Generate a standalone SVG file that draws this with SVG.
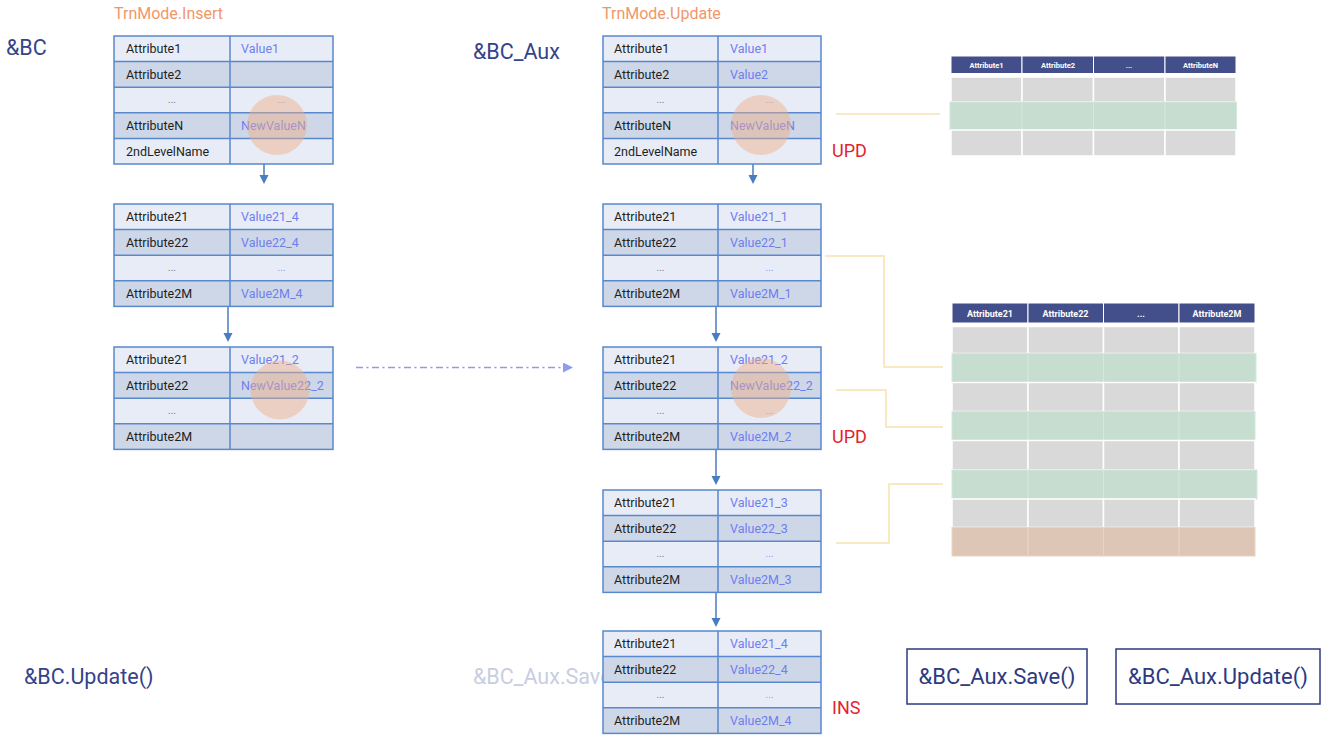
<svg xmlns="http://www.w3.org/2000/svg" width="1328" height="735" viewBox="0 0 1328 735">
<style>
.l{fill:#E8ECF6}
.d{fill:#CDD7E8}
.b{fill:none;stroke:#5A88CC;stroke-width:1.5}
.at{font-family:Roboto,"Liberation Sans",sans-serif;font-size:12.5px;fill:#1E1E1E}
.va{font-family:Roboto,"Liberation Sans",sans-serif;font-size:12.5px;fill:#6F7EF0}
.dt{font-family:Roboto,"Liberation Sans",sans-serif;font-size:10px;fill:#777;text-anchor:middle}
.dv{font-family:Roboto,"Liberation Sans",sans-serif;font-size:10px;fill:#8C98F0;text-anchor:middle}
.big{font-family:Roboto,"Liberation Sans",sans-serif;font-size:21.5px;fill:#34438A}
.mode{font-family:Roboto,"Liberation Sans",sans-serif;font-size:16px;fill:#F0976A}
.red{font-family:Roboto,"Liberation Sans",sans-serif;font-size:18px;fill:#E0252D}
.circ{fill:#F2AE85;opacity:0.45}
.arr{stroke:#4A7CC0;stroke-width:1.5;fill:none}
.ah{fill:#4A7CC0}
.or{stroke:#F8E2B0;stroke-width:1.5;fill:none}
.hd{fill:#434F8A;stroke:#fff;stroke-width:1}
.ht{font-family:Roboto,"Liberation Sans",sans-serif;font-size:7.5px;fill:#fff;text-anchor:middle;font-weight:bold}
.ht2{font-family:Roboto,"Liberation Sans",sans-serif;font-size:9px;fill:#fff;text-anchor:middle;font-weight:bold}
.g{fill:#D9D9D9;stroke:#fff;stroke-width:1.5}
.gr{fill:#C6DDD0;stroke:#D4E8DC;stroke-width:1}
.og{fill:#DEC6B6;stroke:#EBD3C2;stroke-width:1}
.box{fill:#fff;stroke:#2E3A80;stroke-width:1.5}
.bt{font-family:Roboto,"Liberation Sans",sans-serif;font-size:22px;fill:#2E3A80;text-anchor:middle}
</style>
<defs>
<marker id="tri" markerWidth="10" markerHeight="10" refX="9" refY="5" orient="auto" markerUnits="userSpaceOnUse">
<path d="M0,0 L10,5 L0,10 Z" fill="#8F9BF0"/>
</marker>
</defs>

<!-- free labels -->
<g id="labels">
<text x="6" y="55" class="big">&amp;BC</text>
<text x="473" y="59" class="big">&amp;BC_Aux</text>
<text x="114" y="19" class="mode">TrnMode.Insert</text>
<text x="602" y="19" class="mode">TrnMode.Update</text>
<text x="24" y="684" class="big">&amp;BC.Update()</text>
<text x="473" y="684" class="big" style="fill:#C9CDE2">&amp;BC_Aux.Save()</text>
<text x="832" y="157" class="red">UPD</text>
<text x="832" y="443" class="red">UPD</text>
<text x="832" y="714" class="red">INS</text>
</g>

<!-- connectors -->
<g id="connectors">
<path class="arr" d="M264 152V176"/><path class="ah" d="M259.5 175L268.5 175L264 184Z"/>
<path class="arr" d="M228 307V334"/><path class="ah" d="M223.5 333L232.5 333L228 342Z"/>
<path class="arr" d="M753 152V176"/><path class="ah" d="M748.5 175L757.5 175L753 184Z"/>
<path class="arr" d="M716 307V334"/><path class="ah" d="M711.5 333L720.5 333L716 342Z"/>
<path class="arr" d="M716 450V477"/><path class="ah" d="M711.5 476L720.5 476L716 485Z"/>
<path class="arr" d="M716 593V618"/><path class="ah" d="M711.5 618L720.5 618L716 627Z"/>
<path d="M356 367.5H572" stroke="#8F9BF0" stroke-width="1.5" stroke-dasharray="7 3.5 2 3.5" fill="none" marker-end="url(#tri)"/>
<path class="or" d="M836 114H940"/>
<path class="or" d="M825 256H884V367H943"/>
<path class="or" d="M836 390H886V427H943"/>
<path class="or" d="M836 543H889V484H943"/>
</g>

<!-- left tables -->
<g id="bc-level1">
<rect x="114" y="36" width="219" height="25.6" class="l"/>
<rect x="114" y="61.6" width="219" height="25.6" class="d"/>
<rect x="114" y="87.2" width="219" height="25.6" class="l"/>
<rect x="114" y="112.8" width="219" height="25.6" class="d"/>
<rect x="114" y="138.4" width="219" height="25.6" class="l"/>
<path class="b" d="M230 36V164M114 61.6H333M114 87.2H333M114 112.8H333M114 138.4H333"/>
<rect x="114" y="36" width="219" height="128" class="b"/>
<text x="126" y="53.3" class="at">Attribute1</text>
<text x="126" y="78.9" class="at">Attribute2</text>
<text x="172" y="103" class="dt">...</text>
<text x="126" y="130.1" class="at">AttributeN</text>
<text x="126" y="155.7" class="at">2ndLevelName</text>
<text x="241" y="53.3" class="va">Value1</text>
<text x="281.5" y="103" class="dv">...</text>
<text x="241" y="130.1" class="va">NewValueN</text>
<circle cx="277" cy="125" r="30" class="circ"/>
</g>

<g id="bc-level2-a">
<rect x="114" y="204" width="219" height="25.6" class="l"/>
<rect x="114" y="229.6" width="219" height="25.6" class="d"/>
<rect x="114" y="255.2" width="219" height="25.6" class="l"/>
<rect x="114" y="280.8" width="219" height="25.6" class="d"/>
<path class="b" d="M230 204V306.4M114 229.6H333M114 255.2H333M114 280.8H333"/>
<rect x="114" y="204" width="219" height="102.4" class="b"/>
<text x="126" y="221.3" class="at">Attribute21</text>
<text x="126" y="246.9" class="at">Attribute22</text>
<text x="172" y="271" class="dt">...</text>
<text x="126" y="298.1" class="at">Attribute2M</text>
<text x="241" y="221.3" class="va">Value21_4</text>
<text x="241" y="246.9" class="va">Value22_4</text>
<text x="281.5" y="271" class="dv">...</text>
<text x="241" y="298.1" class="va">Value2M_4</text>
</g>

<g id="bc-level2-b">
<rect x="114" y="347" width="219" height="25.6" class="l"/>
<rect x="114" y="372.6" width="219" height="25.6" class="d"/>
<rect x="114" y="398.2" width="219" height="25.6" class="l"/>
<rect x="114" y="423.8" width="219" height="25.6" class="d"/>
<path class="b" d="M230 347V449.4M114 372.6H333M114 398.2H333M114 423.8H333"/>
<rect x="114" y="347" width="219" height="102.4" class="b"/>
<text x="126" y="364.3" class="at">Attribute21</text>
<text x="126" y="389.9" class="at">Attribute22</text>
<text x="172" y="414" class="dt">...</text>
<text x="126" y="441.1" class="at">Attribute2M</text>
<text x="241" y="364.3" class="va">Value21_2</text>
<text x="241" y="389.9" class="va">NewValue22_2</text>
<circle cx="280" cy="390" r="29.5" class="circ"/>
</g>

<!-- middle tables -->
<g id="aux-level1">
<rect x="603" y="36" width="218" height="25.6" class="l"/>
<rect x="603" y="61.6" width="218" height="25.6" class="d"/>
<rect x="603" y="87.2" width="218" height="25.6" class="l"/>
<rect x="603" y="112.8" width="218" height="25.6" class="d"/>
<rect x="603" y="138.4" width="218" height="25.6" class="l"/>
<path class="b" d="M718 36V164M603 61.6H821M603 87.2H821M603 112.8H821M603 138.4H821"/>
<rect x="603" y="36" width="218" height="128" class="b"/>
<text x="614" y="53.3" class="at">Attribute1</text>
<text x="614" y="78.9" class="at">Attribute2</text>
<text x="660.5" y="103" class="dt">...</text>
<text x="614" y="130.1" class="at">AttributeN</text>
<text x="614" y="155.7" class="at">2ndLevelName</text>
<text x="730" y="53.3" class="va">Value1</text>
<text x="730" y="78.9" class="va">Value2</text>
<text x="769.5" y="103" class="dv">...</text>
<text x="730" y="130.1" class="va">NewValueN</text>
<circle cx="761" cy="125" r="30" class="circ"/>
</g>

<g id="aux-level2-1">
<rect x="603" y="204" width="218" height="25.6" class="l"/>
<rect x="603" y="229.6" width="218" height="25.6" class="d"/>
<rect x="603" y="255.2" width="218" height="25.6" class="l"/>
<rect x="603" y="280.8" width="218" height="25.6" class="d"/>
<path class="b" d="M718 204V306.4M603 229.6H821M603 255.2H821M603 280.8H821"/>
<rect x="603" y="204" width="218" height="102.4" class="b"/>
<text x="614" y="221.3" class="at">Attribute21</text>
<text x="614" y="246.9" class="at">Attribute22</text>
<text x="660.5" y="271" class="dt">...</text>
<text x="614" y="298.1" class="at">Attribute2M</text>
<text x="730" y="221.3" class="va">Value21_1</text>
<text x="730" y="246.9" class="va">Value22_1</text>
<text x="769.5" y="271" class="dv">...</text>
<text x="730" y="298.1" class="va">Value2M_1</text>
</g>

<g id="aux-level2-2">
<rect x="603" y="347" width="218" height="25.6" class="l"/>
<rect x="603" y="372.6" width="218" height="25.6" class="d"/>
<rect x="603" y="398.2" width="218" height="25.6" class="l"/>
<rect x="603" y="423.8" width="218" height="25.6" class="d"/>
<path class="b" d="M718 347V449.4M603 372.6H821M603 398.2H821M603 423.8H821"/>
<rect x="603" y="347" width="218" height="102.4" class="b"/>
<text x="614" y="364.3" class="at">Attribute21</text>
<text x="614" y="389.9" class="at">Attribute22</text>
<text x="660.5" y="414" class="dt">...</text>
<text x="614" y="441.1" class="at">Attribute2M</text>
<text x="730" y="364.3" class="va">Value21_2</text>
<text x="730" y="389.9" class="va">NewValue22_2</text>
<text x="769.5" y="414" class="dv">...</text>
<text x="730" y="441.1" class="va">Value2M_2</text>
<circle cx="761" cy="388" r="30" class="circ"/>
</g>

<g id="aux-level2-3">
<rect x="603" y="490" width="218" height="25.6" class="l"/>
<rect x="603" y="515.6" width="218" height="25.6" class="d"/>
<rect x="603" y="541.2" width="218" height="25.6" class="l"/>
<rect x="603" y="566.8" width="218" height="25.6" class="d"/>
<path class="b" d="M718 490V592.4M603 515.6H821M603 541.2H821M603 566.8H821"/>
<rect x="603" y="490" width="218" height="102.4" class="b"/>
<text x="614" y="507.3" class="at">Attribute21</text>
<text x="614" y="532.9" class="at">Attribute22</text>
<text x="660.5" y="557" class="dt">...</text>
<text x="614" y="584.1" class="at">Attribute2M</text>
<text x="730" y="507.3" class="va">Value21_3</text>
<text x="730" y="532.9" class="va">Value22_3</text>
<text x="769.5" y="557" class="dv">...</text>
<text x="730" y="584.1" class="va">Value2M_3</text>
</g>

<g id="aux-level2-4">
<rect x="603" y="631" width="218" height="25.6" class="l"/>
<rect x="603" y="656.6" width="218" height="25.6" class="d"/>
<rect x="603" y="682.2" width="218" height="25.6" class="l"/>
<rect x="603" y="707.8" width="218" height="25.6" class="d"/>
<path class="b" d="M718 631V733.4M603 656.6H821M603 682.2H821M603 707.8H821"/>
<rect x="603" y="631" width="218" height="102.4" class="b"/>
<text x="614" y="648.3" class="at">Attribute21</text>
<text x="614" y="673.9" class="at">Attribute22</text>
<text x="660.5" y="698" class="dt">...</text>
<text x="614" y="725.1" class="at">Attribute2M</text>
<text x="730" y="648.3" class="va">Value21_4</text>
<text x="730" y="673.9" class="va">Value22_4</text>
<text x="769.5" y="698" class="dv">...</text>
<text x="730" y="725.1" class="va">Value2M_4</text>
</g>

<!-- top grid -->
<g id="grid-level1">
<rect x="951" y="56" width="71" height="17.5" class="hd"/>
<rect x="1022" y="56" width="71.5" height="17.5" class="hd"/>
<rect x="1093.5" y="56" width="71.5" height="17.5" class="hd"/>
<rect x="1165" y="56" width="71" height="17.5" class="hd"/>
<text x="986.5" y="67.5" class="ht">Attribute1</text>
<text x="1058" y="67.5" class="ht">Attribute2</text>
<text x="1129" y="67.5" class="ht">...</text>
<text x="1200.5" y="67.5" class="ht">AttributeN</text>
<rect x="951" y="77" width="71" height="25" class="g"/>
<rect x="1022" y="77" width="71.5" height="25" class="g"/>
<rect x="1093.5" y="77" width="71.5" height="25" class="g"/>
<rect x="1165" y="77" width="71" height="25" class="g"/>
<rect x="950" y="102" width="72" height="28" class="gr"/>
<rect x="1022" y="102" width="71.5" height="28" class="gr"/>
<rect x="1093.5" y="102" width="71.5" height="28" class="gr"/>
<rect x="1165" y="102" width="71.5" height="28" class="gr"/>
<rect x="951" y="130" width="71" height="26" class="g"/>
<rect x="1022" y="130" width="71.5" height="26" class="g"/>
<rect x="1093.5" y="130" width="71.5" height="26" class="g"/>
<rect x="1165" y="130" width="71" height="26" class="g"/>
</g>

<!-- bottom grid -->
<g id="grid-level2">
<rect x="952" y="303" width="76" height="20" class="hd"/>
<rect x="1028" y="303" width="75.5" height="20" class="hd"/>
<rect x="1103.5" y="303" width="75.5" height="20" class="hd"/>
<rect x="1179" y="303" width="76" height="20" class="hd"/>
<text x="990" y="316.5" class="ht2">Attribute21</text>
<text x="1065.5" y="316.5" class="ht2">Attribute22</text>
<text x="1141" y="316.5" class="ht2">...</text>
<text x="1217" y="316.5" class="ht2">Attribute2M</text>
<rect x="952" y="326.5" width="76" height="27" class="g"/>
<rect x="1028" y="326.5" width="75.5" height="27" class="g"/>
<rect x="1103.5" y="326.5" width="75.5" height="27" class="g"/>
<rect x="1179" y="326.5" width="76" height="27" class="g"/>
<rect x="952" y="353.5" width="76" height="29" class="gr"/>
<rect x="1028" y="353.5" width="75.5" height="29" class="gr"/>
<rect x="1103.5" y="353.5" width="75.5" height="29" class="gr"/>
<rect x="1179" y="353.5" width="77" height="29" class="gr"/>
<rect x="952" y="382.5" width="76" height="29" class="g"/>
<rect x="1028" y="382.5" width="75.5" height="29" class="g"/>
<rect x="1103.5" y="382.5" width="75.5" height="29" class="g"/>
<rect x="1179" y="382.5" width="76" height="29" class="g"/>
<rect x="952" y="411.5" width="76" height="29" class="gr"/>
<rect x="1028" y="411.5" width="75.5" height="29" class="gr"/>
<rect x="1103.5" y="411.5" width="75.5" height="29" class="gr"/>
<rect x="1179" y="411.5" width="76" height="29" class="gr"/>
<rect x="952" y="440.5" width="76" height="29.5" class="g"/>
<rect x="1028" y="440.5" width="75.5" height="29.5" class="g"/>
<rect x="1103.5" y="440.5" width="75.5" height="29.5" class="g"/>
<rect x="1179" y="440.5" width="76" height="29.5" class="g"/>
<rect x="952" y="470" width="76" height="29" class="gr"/>
<rect x="1028" y="470" width="75.5" height="29" class="gr"/>
<rect x="1103.5" y="470" width="75.5" height="29" class="gr"/>
<rect x="1179" y="470" width="78" height="29" class="gr"/>
<rect x="952" y="499" width="76" height="28.5" class="g"/>
<rect x="1028" y="499" width="75.5" height="28.5" class="g"/>
<rect x="1103.5" y="499" width="75.5" height="28.5" class="g"/>
<rect x="1179" y="499" width="76" height="28.5" class="g"/>
<rect x="952" y="527.5" width="76" height="28.5" class="og"/>
<rect x="1028" y="527.5" width="75.5" height="28.5" class="og"/>
<rect x="1103.5" y="527.5" width="75.5" height="28.5" class="og"/>
<rect x="1179" y="527.5" width="76" height="28.5" class="og"/>
</g>

<!-- method boxes -->
<g id="btn-save">
<rect x="907" y="649" width="180" height="55" class="box"/>
<text x="997" y="684" class="bt">&amp;BC_Aux.Save()</text>
</g>
<g id="btn-update">
<rect x="1116" y="649" width="204" height="55" class="box"/>
<text x="1218" y="684" class="bt">&amp;BC_Aux.Update()</text>
</g>
</svg>
